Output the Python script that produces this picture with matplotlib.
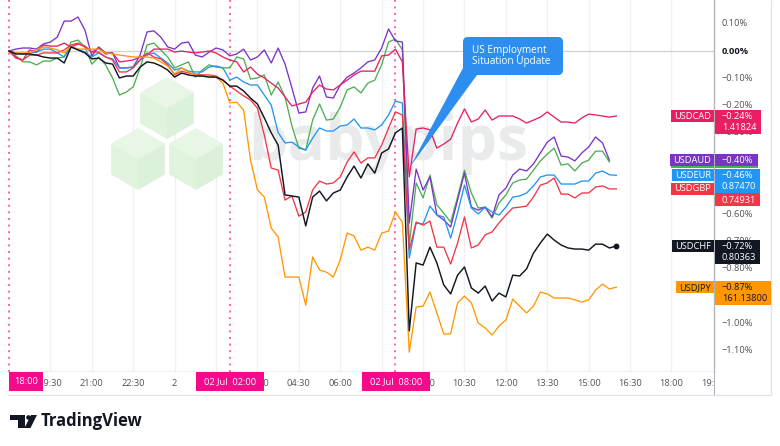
import matplotlib
matplotlib.use("Agg")
import matplotlib.pyplot as plt
import matplotlib.transforms as mtransforms
from matplotlib.patches import Rectangle, Polygon, FancyBboxPatch, Circle
import numpy as np

plt.rcParams['font.family'] = ['Open Sans', 'DejaVu Sans']

# % change since 18:00 (1 Jul), one value per 15-minute bar
usdcad = [0, -0.026, -0.033, 0.004, -0.004, 0.022, 0.018, 0.018, 0.029, 0.015,
          0.026, 0.018, -0.004, 0.011, -0.011, -0.007, -0.040, -0.037, -0.033, -0.022,
          -0.015, 0.007, 0.007, 0.007, -0.004, 0.0, -0.004, -0.007, -0.004, 0.0,
          -0.007, -0.022, -0.033, -0.040, -0.077, -0.059, -0.085, -0.099, -0.118, -0.136,
          -0.169, -0.202, -0.195, -0.188, -0.151, -0.125, -0.140, -0.143, -0.125, -0.107,
          -0.088, -0.074, -0.074, -0.074, -0.018, -0.015, 0.007, -0.040, -0.463, -0.287,
          -0.283, -0.290, -0.357, -0.342, -0.324, -0.265, -0.213, -0.261, -0.250, -0.217,
          -0.254, -0.239, -0.239, -0.239, -0.250, -0.265, -0.254, -0.243, -0.224, -0.243,
          -0.261, -0.261, -0.265, -0.246, -0.232, -0.235, -0.239, -0.243, -0.239]
usdaud = [0, 0.007, 0.011, 0.011, 0.007, 0.026, 0.033, 0.051, 0.110, 0.110,
          0.125, 0.077, -0.018, 0.015, -0.007, -0.007, -0.062, -0.062, -0.059, -0.015,
          0.070, 0.074, 0.051, 0.015, 0.007, 0.029, 0.033, -0.015, -0.022, -0.004,
          0.011, 0.004, -0.018, -0.011, 0.007, -0.033, -0.022, 0.004, -0.044, 0.011,
          -0.048, -0.136, -0.228, -0.224, -0.136, -0.092, -0.169, -0.173, -0.125, -0.096,
          -0.081, -0.062, -0.040, -0.033, 0.011, 0.081, 0.037, 0.033, -0.632, -0.434,
          -0.511, -0.463, -0.603, -0.621, -0.647, -0.548, -0.449, -0.574, -0.585, -0.574,
          -0.610, -0.529, -0.504, -0.456, -0.434, -0.441, -0.415, -0.375, -0.335, -0.316,
          -0.386, -0.390, -0.404, -0.375, -0.353, -0.316, -0.338, -0.401]
usdnzd = [0, -0.018, -0.040, -0.040, -0.051, -0.037, -0.037, -0.026, -0.022, 0.033,
          0.040, 0.015, -0.048, -0.022, -0.051, -0.099, -0.162, -0.151, -0.132, -0.062,
          0.022, 0.029, 0.004, -0.022, -0.062, -0.051, -0.040, -0.096, -0.070, -0.051,
          -0.059, -0.062, -0.062, -0.022, -0.029, -0.103, -0.099, -0.088, -0.162, -0.114,
          -0.169, -0.276, -0.357, -0.364, -0.254, -0.195, -0.254, -0.250, -0.206, -0.143,
          -0.132, -0.154, -0.118, -0.107, -0.051, 0.033, 0.044, 0.004, -0.713, -0.485,
          -0.540, -0.456, -0.566, -0.596, -0.629, -0.537, -0.438, -0.522, -0.577, -0.574,
          -0.614, -0.559, -0.529, -0.485, -0.474, -0.471, -0.438, -0.404, -0.379, -0.357,
          -0.419, -0.415, -0.441, -0.412, -0.401, -0.368, -0.368, -0.408]
usdeur = [0, -0.007, -0.011, -0.007, -0.004, 0.007, 0.007, -0.007, -0.022, 0.015,
          0.007, -0.004, -0.022, -0.007, -0.022, -0.029, -0.062, -0.062, -0.059, -0.033,
          -0.015, -0.007, -0.026, -0.044, -0.070, -0.062, -0.074, -0.077, -0.077, -0.059,
          -0.055, -0.062, -0.107, -0.096, -0.114, -0.125, -0.125, -0.162, -0.199, -0.300,
          -0.338, -0.335, -0.353, -0.364, -0.320, -0.283, -0.294, -0.294, -0.276, -0.272,
          -0.250, -0.283, -0.283, -0.290, -0.272, -0.235, -0.184, -0.191, -0.761, -0.632,
          -0.636, -0.570, -0.603, -0.610, -0.688, -0.596, -0.493, -0.577, -0.599, -0.574,
          -0.592, -0.603, -0.574, -0.537, -0.533, -0.522, -0.496, -0.463, -0.456, -0.456,
          -0.489, -0.489, -0.489, -0.478, -0.478, -0.449, -0.441, -0.455, -0.457]
usdgbp = [0, -0.022, -0.033, -0.015, -0.015, -0.007, -0.007, -0.007, 0.004, 0.022,
          0.029, 0.015, -0.004, -0.004, -0.022, -0.033, -0.077, -0.077, -0.062, -0.033,
          -0.007, -0.022, -0.029, -0.051, -0.088, -0.074, -0.081, -0.085, -0.088, -0.088,
          -0.092, -0.107, -0.129, -0.147, -0.165, -0.180, -0.210, -0.309, -0.430, -0.438,
          -0.548, -0.533, -0.607, -0.592, -0.511, -0.478, -0.489, -0.485, -0.463, -0.408,
          -0.371, -0.412, -0.393, -0.393, -0.346, -0.283, -0.224, -0.235, -0.732, -0.629,
          -0.640, -0.625, -0.721, -0.721, -0.783, -0.706, -0.610, -0.724, -0.713, -0.676,
          -0.665, -0.632, -0.603, -0.577, -0.574, -0.570, -0.537, -0.493, -0.485, -0.467,
          -0.526, -0.526, -0.540, -0.522, -0.522, -0.500, -0.496, -0.507, -0.507]
usdchf = [0, -0.011, -0.011, -0.011, -0.015, -0.022, -0.026, -0.026, -0.044, 0.015,
          0.004, -0.007, -0.029, -0.026, -0.044, -0.048, -0.099, -0.092, -0.092, -0.059,
          -0.040, -0.044, -0.055, -0.070, -0.096, -0.081, -0.088, -0.092, -0.092, -0.096,
          -0.096, -0.107, -0.129, -0.129, -0.147, -0.173, -0.195, -0.246, -0.301, -0.346,
          -0.529, -0.533, -0.537, -0.643, -0.537, -0.515, -0.551, -0.522, -0.511, -0.463,
          -0.423, -0.467, -0.415, -0.449, -0.375, -0.360, -0.301, -0.283, -1.029, -0.779,
          -0.787, -0.721, -0.779, -0.860, -0.893, -0.824, -0.794, -0.871, -0.890, -0.864,
          -0.919, -0.890, -0.904, -0.824, -0.827, -0.801, -0.743, -0.706, -0.673, -0.695,
          -0.713, -0.724, -0.728, -0.728, -0.732, -0.710, -0.710, -0.724, -0.717]
usdjpy = [0, -0.007, -0.007, -0.007, 0.004, 0.015, 0.011, 0.004, -0.007, 0.015,
          0.007, 0.007, 0.007, 0.007, -0.007, -0.011, -0.015, -0.018, -0.022, -0.022,
          -0.022, -0.026, -0.040, -0.055, -0.085, -0.062, -0.077, -0.088, -0.092, -0.092,
          -0.096, -0.118, -0.191, -0.188, -0.217, -0.401, -0.511, -0.537, -0.651, -0.684,
          -0.831, -0.831, -0.831, -0.934, -0.757, -0.805, -0.813, -0.831, -0.768, -0.669,
          -0.680, -0.732, -0.721, -0.732, -0.669, -0.662, -0.592, -0.629, -1.107, -0.941,
          -0.938, -0.886, -0.963, -1.040, -1.040, -0.926, -0.901, -0.926, -1.000, -1.018,
          -1.044, -1.011, -0.989, -0.912, -0.938, -0.963, -0.938, -0.886, -0.893, -0.908,
          -0.908, -0.908, -0.915, -0.923, -0.915, -0.879, -0.857, -0.875, -0.868]

last_price = {'USDCAD': '1.41824', 'USDEUR': '0.87470', 'USDGBP': '0.74931',
              'USDCHF': '0.80363', 'USDJPY': '161.13800'}

# time axis, hours after 18:00 (labels hidden under the marker boxes are left out)
tick_hours = [1.5, 3, 4.5, 6, 9, 10.5, 12, 15, 16.5, 18, 19.5, 21, 22.5, 24, 25.5]
tick_labels = ['19:30', '21:00', '22:30', '2', '03:00', '04:30', '06:00',
               '09:00', '10:30', '12:00', '13:30', '15:00', '16:30', '18:00', '19:30']
grid_hours = [1.5, 3, 4.5, 6, 7.5, 9, 10.5, 12, 13.5, 15, 16.5, 18, 19.5, 21, 22.5, 24]
marker_hours = [0, 8, 14]
marker_labels = ['18:00', '02 Jul  02:00', '02 Jul  08:00']
pct_ticks = [0.1, 0.0, -0.1, -0.2, -0.3, -0.6, -0.7, -0.8, -1.0, -1.1]

c_cad, c_aud, c_nzd = '#e91e63', '#7b33c8', '#4caf50'
c_eur, c_gbp, c_chf, c_jpy = '#2196f3', '#f23645', '#131722', '#ff9800'
pink = '#f7098b'

W, H = 780, 446
fig = plt.figure(figsize=(W / 100, H / 100), dpi=100)
P = mtransforms.Affine2D().scale(1 / W, -1 / H).translate(0, 1) + fig.transFigure

ax = fig.add_axes([8 / W, 1 - 372 / H, 706 / W, 372 / H])
ax.set_xlim(-0.036, 25.54)
ax.set_ylim(-1.180, 0.1875)
ax.set_xticks([])
ax.set_yticks([])
for s in ['left', 'top']:
    ax.spines[s].set_visible(False)
for s in ['right', 'bottom']:
    ax.spines[s].set_color('#b2b5be')
    ax.spines[s].set_linewidth(1.0)

for xv in grid_hours:
    ax.axvline(xv, color='#f0f1f4', lw=1, zorder=0.2)
ax.axhline(0, color='#cfd1d6', lw=0.9, zorder=1)
for xv in marker_hours:
    ax.axvline(xv, color='#ff5db1', lw=1.4, ls=(0, (1, 2.4)), zorder=1.5)

# babypips watermark
def hexcube(cx, cy, r):
    dx = r * 0.866
    top, ur, lr = (cx, cy - r), (cx + dx, cy - r / 2), (cx + dx, cy + r / 2)
    bot, ll, ul, c = (cx, cy + r), (cx - dx, cy + r / 2), (cx - dx, cy - r / 2), (cx, cy)
    for pts, col in [([top, ur, c, ul], '#e8f6e6'), ([ul, c, bot, ll], '#e0f3dd'),
                     ([c, ur, lr, bot], '#dcf1d9')]:
        ax.add_patch(Polygon(pts, closed=True, transform=P, fc=col, ec='none',
                             zorder=0.5, clip_on=False))

hexcube(167, 108, 31)
hexcube(138, 159, 31)
hexcube(196, 159, 31)
ax.text(248, 160, 'babypips', transform=P, fontsize=45, fontweight='bold',
        color='#e9eaec', ha='left', va='baseline', zorder=0.6)

t = lambda v: np.arange(len(v)) * 0.25
for vals, col, lw in [(usdnzd, c_nzd, 0.95), (usdaud, c_aud, 0.95), (usdcad, c_cad, 0.95),
                      (usdeur, c_eur, 0.95), (usdgbp, c_gbp, 0.95), (usdjpy, c_jpy, 0.95),
                      (usdchf, c_chf, 1.05)]:
    ax.plot(t(vals), vals, color=col, lw=lw, zorder=2)
ax.plot(t(usdchf)[-1], usdchf[-1], 'o', ms=3.2, color=c_chf, zorder=3)

# time strip
fs = 6.7
axt = fig.add_axes([8 / W, 1 - 395 / H, 706 / W, 23 / H])
axt.set_xlim(ax.get_xlim())
axt.set_ylim(23, 0)
axt.set_xticks([])
axt.set_yticks([])
axt.spines['left'].set_visible(False)
axt.spines['top'].set_visible(False)
axt.spines['right'].set_color('#b2b5be')
axt.spines['bottom'].set_color('#e0e3eb')
for xv, lab in zip(tick_hours, tick_labels):
    tx = axt.text(xv, 11, lab, ha='center', va='center', fontsize=fs, color='#50535e',
                  clip_on=True, zorder=2)
    tx.set_clip_box(axt.bbox)
hpx = 27.6
for xv, lab in zip(marker_hours, marker_labels):
    w = (34 if xv == 0 else 68) / hpx
    x0 = xv if xv == 0 else xv + 0.02 - w / 2
    axt.add_patch(Rectangle((x0, 0), w, 19, fc=pink, ec='none', zorder=4, clip_on=False))
    axt.text(x0 + w / 2, 10, lab, ha='center', va='center', fontsize=fs, color='white',
             zorder=5)

fig.add_artist(Rectangle((714, 395), 57, 0, transform=P, ec='#e0e3eb', lw=1))
fig.add_artist(Rectangle((771, 0), 0, 395, transform=P, ec='#e0e3eb', lw=1))

# right price scale
trans = mtransforms.blended_transform_factory(P, ax.transData)
for v in pct_ticks:
    lab = f"{v:.2f}%".replace('-', '\u2212')
    fig.text(722, v, lab, transform=trans, ha='left', va='center', fontsize=fs,
             color='#131722' if v == 0 else '#50535e',
             fontweight='bold' if v == 0 else 'normal', zorder=0.5)

renderer = fig.canvas.get_renderer()
# drawn bottom to top; show_pct/show_tag False where the text is hidden in the chart
series_labels = [('USDNZD', usdnzd, c_nzd, 'white', False, False),
                 ('USDAUD', usdaud, c_aud, 'white', True, True),
                 ('USDGBP', usdgbp, c_gbp, 'white', False, True),
                 ('USDEUR', usdeur, c_eur, 'white', True, True),
                 ('USDCAD', usdcad, c_cad, 'white', True, True),
                 ('USDCHF', usdchf, c_chf, 'white', True, True),
                 ('USDJPY', usdjpy, c_jpy, '#131722', True, True)]
z = 10
for name, vals, col, fc, show_pct, show_tag in series_labels:
    v = vals[-1]
    yc = H - ax.transData.transform((0, v))[1]
    tag = fig.text(0, yc, name, transform=P, ha='center', va='center', fontsize=fs,
                   color=fc, zorder=z + 1)
    wt = tag.get_window_extent(renderer).width
    x0 = 714 - wt - 6
    tag.set_x((x0 + 714) / 2)
    tag.set_visible(show_tag)
    fig.add_artist(Rectangle((x0, yc - 6), 714 - x0, 12, transform=P, fc=col, ec='none',
                             zorder=z))
    rows = [f"{v:.2f}%".replace('-', '\u2212')]
    if name in last_price:
        rows.append(last_price[name])
    widths = []
    for k, s in enumerate(rows):
        tt = fig.text(722, yc + 11.5 * k, s, transform=P, ha='left', va='center',
                      fontsize=fs, color=fc, zorder=z + 1)
        widths.append(tt.get_window_extent(renderer).width)
        if k == 0 and not show_pct:
            tt.set_visible(False)
    fig.add_artist(Rectangle((715, yc - 6), 7 + max(widths) + 4, 12 + 11.5 * (len(rows) - 1),
                             transform=P, fc=col, ec='none', zorder=z))
    z += 2

# callout
fig.add_artist(FancyBboxPatch((463, 37), 100, 38, boxstyle='round,pad=0,rounding_size=5',
                              transform=P, fc='#2e8ef0', ec='none', zorder=30))
fig.add_artist(Polygon([(463, 68), (477, 75), (410, 167)], closed=True, transform=P,
                       fc='#2e8ef0', ec='none', zorder=30))
fig.text(471.5, 56, 'US Employment\nSituation Update', transform=P, ha='left', va='center',
         color='white', fontsize=7.2, linespacing=1.05, zorder=31)

# TradingView logo
logo = '#131722'
fig.add_artist(Rectangle((10, 415), 15, 5, transform=P, fc=logo, ec='none'))
fig.add_artist(Rectangle((18, 415), 7, 13, transform=P, fc=logo, ec='none'))
fig.add_artist(Circle((28.5, 417.5), 2.3, transform=P, fc=logo, ec='none'))
fig.add_artist(Polygon([(31, 415), (37, 415), (30.5, 428), (24.5, 428)], closed=True,
                       transform=P, fc=logo, ec='none'))
fig.text(41, 421.5, 'TradingView', transform=P, ha='left', va='center', fontsize=12,
         fontweight='bold', color=logo)

fig.savefig('out.png', dpi=100)
